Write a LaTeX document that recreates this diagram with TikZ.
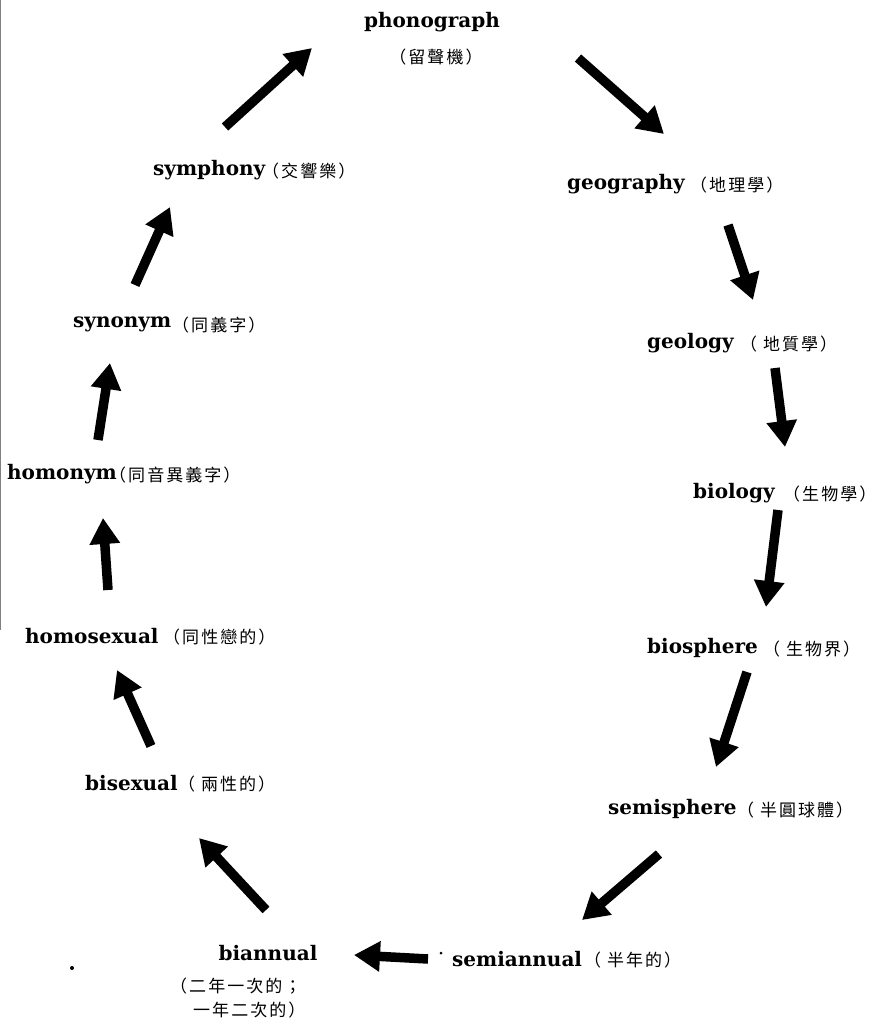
\documentclass[tikz,border=0pt]{standalone}
\usepackage{fontspec}
\newfontfamily\cjk{Noto Sans CJK TC}[LetterSpace=12]
\newfontfamily\enf{DejaVu Serif}
\usetikzlibrary{arrows.meta}
\begin{document}
\begin{tikzpicture}[x=1pt,y=-1pt,
  en/.style={inner sep=0pt, font=\fontsize{20}{24}\selectfont\enf\bfseries},
  zh/.style={inner sep=0pt, anchor=west, font=\fontsize{17}{20}\selectfont\cjk},
  bigarrow/.style={line width=9.5pt, -{Triangle[length=26pt,width=29pt]}}]
\useasboundingbox (0,0) rectangle (891,1029);
\fill[white] (0,0) rectangle (891,1029);
\draw[gray, line width=1pt] (0.5,0) -- (0.5,630);

% words
\node[en] (phonograph) at (432,22) {phonograph};
\node[zh,anchor=center] (phonozh) at (436,57) {（留聲機）};
\node[en,anchor=west] (symphony) at (153,170) {symphony};
\node[zh] (symphonyzh) at (262,171) {（交響樂）};
\node[en,anchor=west] (geography) at (567,184) {geography};
\node[zh] (geographyzh) at (690,185) {（地理學）};
\node[en,anchor=west] (synonym) at (73,324) {synonym};
\node[zh] (synonymzh) at (172,325) {（同義字）};
\node[en,anchor=west] (geology) at (647,343) {geology};
\node[zh] (geologyzh) at (740,344) {（ 地質學）};
\node[en,anchor=west] (homonym) at (7,474) {homonym};
\node[zh] (homonymzh) at (109,475) {（同音異義字）};
\node[en,anchor=west] (biology) at (693,493) {biology};
\node[zh] (biologyzh) at (783,494) {（生物學）};
\node[en,anchor=west] (homosexual) at (25,636) {homosexual};
\node[zh] (homosexualzh) at (163,637) {（同性戀的）};
\node[en,anchor=west] (biosphere) at (647,648) {biosphere};
\node[zh] (biospherezh) at (763,649) {（ 生物界）};
\node[en,anchor=west] (bisexual) at (85,783) {bisexual};
\node[zh] (bisexualzh) at (178,784) {（ 兩性的）};
\node[en,anchor=west] (semisphere) at (608,809) {semisphere};
\node[zh] (semispherezh) at (737,810) {（ 半圓球體）};
\node[en] (biannual) at (268,953) {biannual};
\node[zh] (biannualzh1) at (170,986) {（二年一次的；};
\node[zh] (biannualzh2) at (193,1010) {一年二次的）};
\node[en,anchor=west] (semiannual) at (452,959) {semiannual};
\node[zh] (semiannualzh) at (584,960) {（ 半年的）};
\fill (441,953) circle (1.5);
\fill (72,968) circle (2);

% arrow endpoints
\coordinate (a1s) at (225,127);  \coordinate (a1e) at (312,48);
\coordinate (a2s) at (578,58);   \coordinate (a2e) at (664,134);
\coordinate (a3s) at (728,225);  \coordinate (a3e) at (753,300);
\coordinate (a4s) at (775,368);  \coordinate (a4e) at (785,447);
\coordinate (a5s) at (778,510);  \coordinate (a5e) at (766,607);
\coordinate (a6s) at (747,672);  \coordinate (a6e) at (716,767);
\coordinate (a7s) at (659,854);  \coordinate (a7e) at (582,920);
\coordinate (a8s) at (428,959);  \coordinate (a8e) at (354,955);
\coordinate (a9s) at (266,910);  \coordinate (a9e) at (199,838);
\coordinate (a10s) at (151,746); \coordinate (a10e) at (117,670);
\coordinate (a11s) at (108,590); \coordinate (a11e) at (103,518);
\coordinate (a12s) at (98,440);  \coordinate (a12e) at (110,363);
\coordinate (a13s) at (135,285); \coordinate (a13e) at (170,207);

\foreach \i in {1,...,13}{\draw[bigarrow] (a\i s) -- (a\i e);}
\end{tikzpicture}
\end{document}
